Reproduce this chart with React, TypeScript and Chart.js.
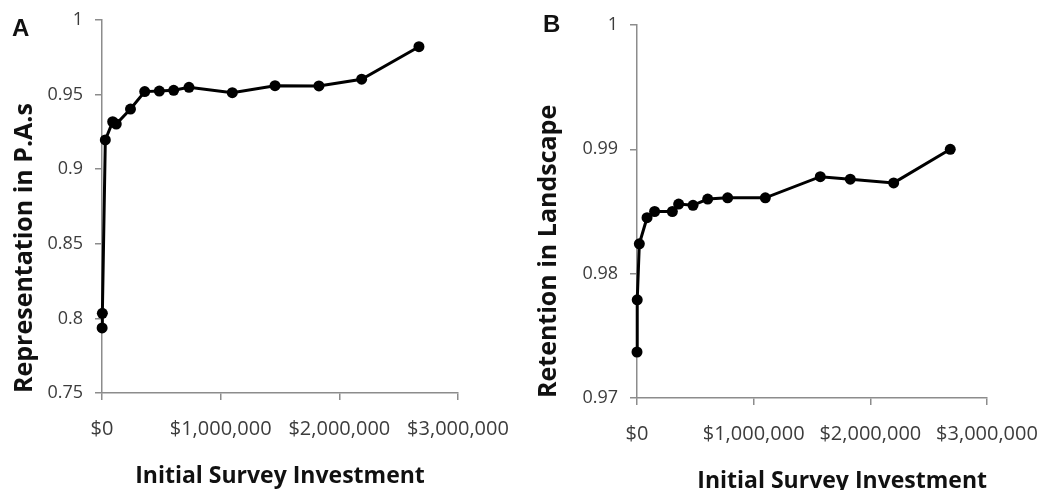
import React, { useEffect, useRef } from "react";
import { Chart, registerables } from "chart.js";

Chart.register(...registerables);

// ---- Data ----
const aInvestment = [1000, 3000, 28000, 90000, 120000, 240000, 360000, 483000, 604000, 733000, 1098000, 1458000, 1828000, 2188000, 2671000];
const aRepresentation = [0.7936, 0.8034, 0.9196, 0.9318, 0.9303, 0.9403, 0.952, 0.9524, 0.9529, 0.9549, 0.9513, 0.956, 0.9558, 0.9603, 0.9821];

const bInvestment = [0, 2000, 20000, 86000, 151000, 303000, 357000, 480000, 606000, 777000, 1100000, 1571000, 1828000, 2200000, 2685000];
const bRetention = [0.9737, 0.9779, 0.9824, 0.9845, 0.985, 0.985, 0.9856, 0.9855, 0.986, 0.9861, 0.9861, 0.9878, 0.9876, 0.9873, 0.99];

const xTickValues = [0, 1000000, 2000000, 3000000];
const aYTickValues = [0.75, 0.8, 0.85, 0.9, 0.95, 1];
const bYTickValues = [0.97, 0.98, 0.99, 1];

const xTitle = "Initial Survey Investment";
const aYTitle = "Representation in P.A.s";
const bYTitle = "Retention in Landscape";

const FONT = "'Open Sans', 'DejaVu Sans', sans-serif";
const AXIS_COLOR = "#8c8c8c";
const TICK_COLOR = "#3c3c3c";

function formatMoney(v: number): string {
  const s = Math.round(v).toString().replace(/\B(?=(\d{3})+(?!\d))/g, ",");
  return "$" + s;
}

type PanelProps = {
  xs: number[];
  ys: number[];
  yTicks: number[];
  yTitle: string;
  width: number;
  height: number;
  axisLeft: number;
  areaRight: number;
  areaTop: number;
  areaBottom: number;
  yTitlePad: number;
  xTitleAlign: "start" | "center" | "end";
};

function Panel(p: PanelProps) {
  const ref = useRef<HTMLCanvasElement | null>(null);
  useEffect(() => {
    if (!ref.current) return;
    const yMin = Math.min(...p.yTicks);
    const yMax = Math.max(...p.yTicks);
    const chart = new Chart(ref.current, {
      type: "line",
      data: {
        datasets: [
          {
            data: p.xs.map((x, i) => ({ x, y: p.ys[i] })),
            borderColor: "#000",
            backgroundColor: "#000",
            borderWidth: 3,
            pointRadius: 5.5,
            pointBorderWidth: 0,
            pointBackgroundColor: "#000",
            tension: 0,
            clip: false as any,
          },
        ],
      },
      options: {
        animation: false,
        responsive: false,
        devicePixelRatio: 1,
        layout: {
          padding: { left: 0, right: p.width - p.areaRight, top: p.areaTop, bottom: 0 },
        },
        plugins: { legend: { display: false }, tooltip: { enabled: false } },
        scales: {
          x: {
            type: "linear",
            min: 0,
            max: 3000000,
            afterBuildTicks: (s: any) => {
              s.ticks = xTickValues.map((v) => ({ value: v }));
            },
            afterFit: (s: any) => {
              s.height = p.height - p.areaBottom;
              s.paddingLeft = 0;
              s.paddingRight = 0;
            },
            grid: {
              display: true,
              drawOnChartArea: false,
              drawTicks: true,
              tickLength: 7,
              color: AXIS_COLOR,
              lineWidth: 1.5,
            },
            border: { display: true, color: AXIS_COLOR, width: 1.5 },
            ticks: {
              autoSkip: false,
              maxRotation: 0,
              padding: 17,
              color: TICK_COLOR,
              font: { family: FONT, size: 20 },
              callback: (v: any) => formatMoney(Number(v)),
            },
            title: {
              display: true,
              text: xTitle,
              align: p.xTitleAlign,
              color: "#111",
              font: { family: FONT, size: 23, weight: "bold" },
              padding: { top: 0, bottom: 0 },
            },
          },
          y: {
            type: "linear",
            min: yMin,
            max: yMax,
            afterBuildTicks: (s: any) => {
              s.ticks = p.yTicks.map((v) => ({ value: v }));
            },
            afterFit: (s: any) => {
              s.width = p.axisLeft;
              s.paddingTop = 0;
              s.paddingBottom = 0;
            },
            grid: {
              display: true,
              drawOnChartArea: false,
              drawTicks: true,
              tickLength: 7,
              color: AXIS_COLOR,
              lineWidth: 1.5,
            },
            border: { display: true, color: AXIS_COLOR, width: 1.5 },
            ticks: {
              autoSkip: false,
              padding: 12,
              color: TICK_COLOR,
              font: { family: FONT, size: 18 },
              callback: (v: any) => String(Number(Number(v).toFixed(4))),
            },
            title: {
              display: true,
              text: p.yTitle,
              align: "start",
              color: "#111",
              font: { family: FONT, size: 25, weight: "bold" },
              padding: { top: p.yTitlePad, bottom: 0 },
            },
          },
        },
      } as any,
    });
    return () => chart.destroy();
  }, []);
  return <canvas ref={ref} width={p.width} height={p.height} style={{ width: p.width, height: p.height, display: "block" }} />;
}

const letterStyle: React.CSSProperties = {
  position: "absolute",
  fontFamily: "'Liberation Sans', Arial, sans-serif",
  fontWeight: "bold",
  fontSize: 24,
  lineHeight: 1,
  color: "#111",
};

export default function App() {
  return (
    <div style={{ position: "fixed", left: 0, top: 0, width: 1041, height: 490, overflow: "hidden", background: "#fff" }}>
      <div style={{ position: "absolute", left: 0, top: 0 }}>
        <Panel
          xs={aInvestment}
          ys={aRepresentation}
          yTicks={aYTickValues}
          yTitle={aYTitle}
          width={520}
          height={490}
          axisLeft={102}
          areaRight={458}
          areaTop={20}
          areaBottom={393}
          yTitlePad={10}
          xTitleAlign="center"
        />
      </div>
      <div style={{ position: "absolute", left: 520, top: 5 }}>
        <Panel
          xs={bInvestment}
          ys={bRetention}
          yTicks={bYTickValues}
          yTitle={bYTitle}
          width={521}
          height={490}
          axisLeft={117}
          areaRight={467}
          areaTop={20}
          areaBottom={393}
          yTitlePad={14}
          xTitleAlign="end"
        />
      </div>
      <div style={{ ...letterStyle, left: 12, top: 16 }}>A</div>
      <div style={{ ...letterStyle, left: 543, top: 12 }}>B</div>
    </div>
  );
}
